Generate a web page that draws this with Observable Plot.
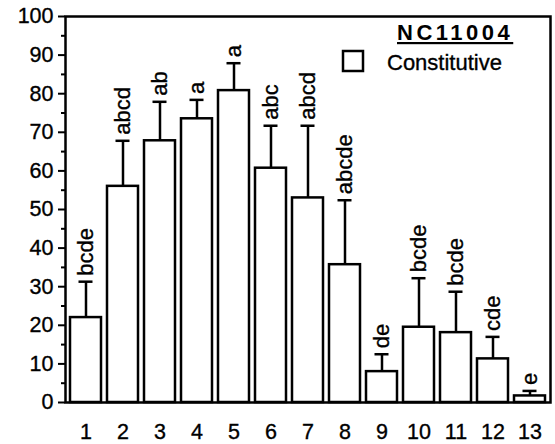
<!DOCTYPE html>
<html>
<head>
<meta charset="utf-8">
<script src="https://cdn.jsdelivr.net/npm/d3@7"></script>
<script src="https://cdn.jsdelivr.net/npm/@observablehq/plot@0.6"></script>
<style>
  html, body { margin: 0; padding: 0; background: white; }
  #chart { width: 555px; height: 444px; }
</style>
</head>
<body>
<div id="chart"></div>
<script>
const groups = ["1","2","3","4","5","6","7","8","9","10","11","12","13"];
const means = [22, 56, 67.8, 73.5, 80.8, 60.7, 53, 35.7, 8, 19.5, 18.1, 11.3, 1.7];
const uppers = [31.3, 67.8, 77.9, 78.4, 87.9, 71.7, 71.7, 52.4, 12.5, 32.2, 28.7, 17.0, 3.0];
const letters = ["bcde","abcd","ab","a","a","abc","abcd","abcde","de","bcde","bcde","cde","e"];
const yMajor = [0,10,20,30,40,50,60,70,80,90,100];
const yMinor = [5,15,25,35,45,55,65,75,85,95];
const titleText = "NC11004";
const legendText = "Constitutive";

const data = groups.map((g, i) => ({g, mean: means[i], upper: uppers[i], letter: letters[i]}));
const FONT = "'Liberation Sans', Arial, Helvetica, sans-serif";

const chart = Plot.plot({
  width: 555,
  height: 444,
  marginLeft: 65,
  marginRight: 5,
  marginTop: 16,
  marginBottom: 42,
  style: {fontFamily: FONT, fontSize: "21px", background: "white", color: "black"},
  x: {domain: groups, paddingInner: 0.15, paddingOuter: 0.08},
  y: {domain: [0, 100]},
  marks: [
    Plot.axisY({ticks: yMajor, tickSize: 7, tickPadding: 5, strokeWidth: 2, fontSize: 21.5, label: null}),
    Plot.axisY({ticks: yMinor, tickSize: 4, tickFormat: () => "", strokeWidth: 2, label: null}),
    Plot.axisX({tickSize: 0, tickPadding: 21, fontSize: 21.5, label: null}),
    Plot.ruleX(data, {x: "g", y1: "mean", y2: "upper", stroke: "black", strokeWidth: 2.5}),
    Plot.tickY(data, {x: "g", y: "upper", stroke: "black", strokeWidth: 2.5, insetLeft: 8.5, insetRight: 8.5}),
    Plot.barY(data, {x: "g", y: "mean", fill: "white", stroke: "black", strokeWidth: 2.5}),
    Plot.text(data, {x: "g", y: "upper", text: "letter", rotate: -90, textAnchor: "start", dy: -6, fontSize: 22, fill: "black"}),
    Plot.frame({stroke: "black", strokeWidth: 2.5})
  ]
});

const svg = d3.select(chart);
svg.selectAll("text").attr("stroke", "black").attr("stroke-width", 0.35);
svg.append("text")
  .attr("x", 397).attr("y", 40)
  .attr("text-anchor", "start")
  .attr("font-family", FONT).attr("font-size", 22).attr("font-weight", "bold")
  .attr("letter-spacing", 3.5)
  .attr("text-decoration", "underline")
  .attr("fill", "black")
  .text(titleText);
svg.append("rect")
  .attr("x", 343).attr("y", 51).attr("width", 20).attr("height", 20)
  .attr("fill", "white").attr("stroke", "black").attr("stroke-width", 2.5);
svg.append("text")
  .attr("x", 387).attr("y", 70)
  .attr("text-anchor", "start")
  .attr("font-family", FONT).attr("font-size", 22)
  .attr("stroke", "black").attr("stroke-width", 0.35)
  .attr("fill", "black")
  .text(legendText);

document.getElementById("chart").appendChild(chart);
</script>
</body>
</html>
